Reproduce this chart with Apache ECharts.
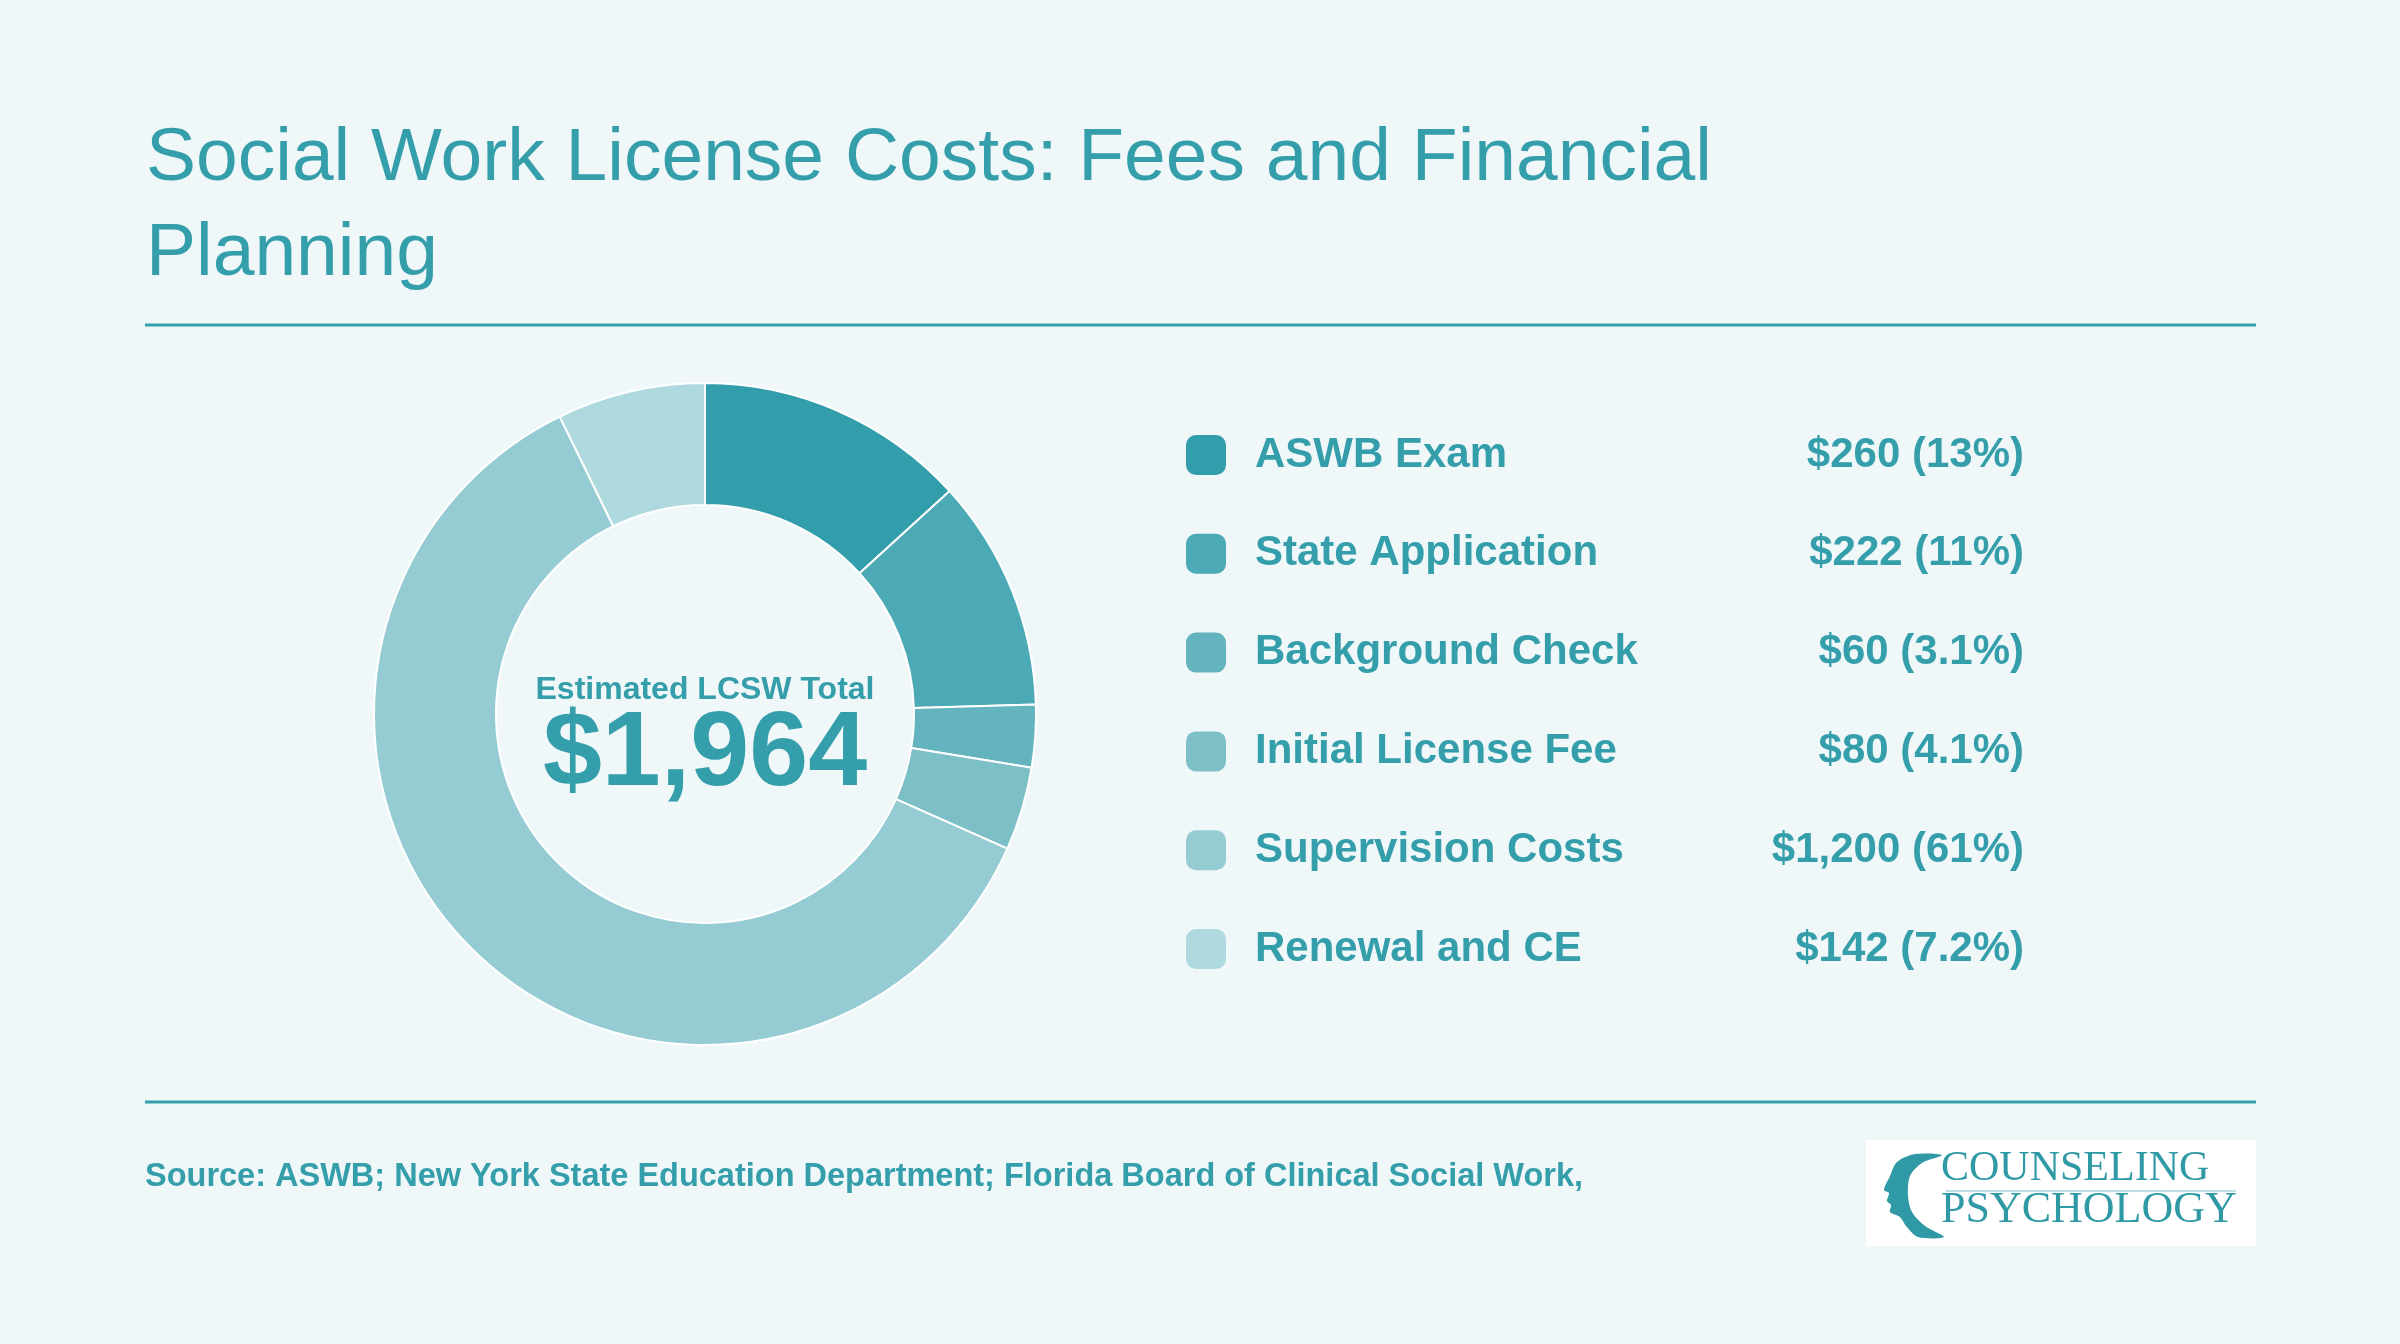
<!DOCTYPE html>
<html>
<head>
<meta charset="utf-8">
<title>Social Work License Costs</title>
<script src="https://cdn.jsdelivr.net/npm/echarts@6/dist/echarts.min.js"></script>
<style>
  html, body { margin: 0; padding: 0; background: #eff7f9; }
  #chart { width: 2400px; height: 1344px; }
</style>
</head>
<body>
<div id="chart"></div>
<script>
const categories = ['ASWB Exam', 'State Application', 'Background Check', 'Initial License Fee', 'Supervision Costs', 'Renewal and CE'];
const costs = [260, 222, 60, 80, 1200, 142];
const shares = ['13%', '11%', '3.1%', '4.1%', '61%', '7.2%'];
const sliceColors = ['#339eab', '#4ca9b6', '#63b4bf', '#7cbfc7', '#95ccd3', '#aed9de'];
const totalLabel = '$1,964';

const TEAL = '#349eab';
const FONT = '"Liberation Sans", Arial, Helvetica, sans-serif';

let chart = null;

function money(v) {
    return '$' + v.toLocaleString('en-US');
}

function legendText(name) {
    const i = categories.indexOf(name);
    return `{n|${name}}{v|${money(costs[i])} (${shares[i]})}`;
}

// little logo in the bottom right corner
function logoGraphics() {
    return [
        {
            type: 'rect',
            shape: { x: 1866, y: 1140, width: 390, height: 106 },
            style: { fill: '#ffffff' }
        },
        {
            type: 'polygon',
            shape: {
                smooth: 0.3,
                points: [
                    [1942, 1155], [1915, 1154], [1897, 1162], [1890, 1176],
                    [1884, 1190], [1889, 1193], [1887, 1201], [1891, 1205],
                    [1890, 1212], [1900, 1217], [1906, 1226], [1918, 1237],
                    [1944, 1237], [1925, 1226], [1912, 1212], [1908, 1196],
                    [1910, 1176], [1922, 1163]
                ]
            },
            style: { fill: '#2f9aa6' }
        },
        {
            type: 'text',
            style: {
                text: 'COUNSELING', x: 1941, y: 1169,
                font: '42px "Liberation Serif", "Times New Roman", serif',
                fill: '#2f9aa6', textVerticalAlign: 'middle'
            }
        },
        {
            type: 'line',
            shape: { x1: 1946, y1: 1191, x2: 2236, y2: 1191 },
            style: { stroke: '#a9d4da', lineWidth: 1.5 }
        },
        {
            type: 'text',
            style: {
                text: 'PSYCHOLOGY', x: 1941, y: 1210,
                font: '44px "Liberation Serif", "Times New Roman", serif',
                fill: '#2f9aa6', textVerticalAlign: 'middle'
            }
        }
    ];
}

function buildOptions() {
    return {
        backgroundColor: '#eff7f9',
        animation: false,
        color: sliceColors,
        title: {
            text: 'Social Work License Costs: Fees and Financial\nPlanning',
            left: 146,
            top: 112,
            padding: 0,
            textStyle: {
                color: TEAL,
                fontFamily: FONT,
                fontWeight: 'normal',
                fontSize: 75,
                lineHeight: 95
            }
        },
        legend: {
            orient: 'vertical',
            left: 1186,
            top: 434,
            padding: 0,
            itemWidth: 40,
            itemHeight: 40,
            itemGap: 56.8,
            icon: 'roundRect',
            selectedMode: false,
            itemStyle: { borderWidth: 0 },
            data: categories,
            formatter: legendText,
            textStyle: {
                color: TEAL,
                fontFamily: FONT,
                fontWeight: 'bold',
                fontSize: 42,
                lineHeight: 40,
                padding: [0, 0, 0, 24],
                rich: {
                    n: { width: 469, lineHeight: 40, color: TEAL, fontFamily: FONT, fontWeight: 'bold', fontSize: 42 },
                    v: { width: 300, lineHeight: 40, align: 'right', color: TEAL, fontFamily: FONT, fontWeight: 'bold', fontSize: 42 }
                }
            }
        },
        graphic: [
            {
                type: 'line',
                shape: { x1: 145, y1: 325, x2: 2256, y2: 325 },
                style: { stroke: TEAL, lineWidth: 3 }
            },
            {
                type: 'line',
                shape: { x1: 145, y1: 1102, x2: 2256, y2: 1102 },
                style: { stroke: TEAL, lineWidth: 3 }
            },
            {
                type: 'text',
                style: {
                    text: 'Estimated LCSW Total', x: 705, y: 690,
                    font: 'bold 32px ' + FONT, fill: TEAL,
                    textAlign: 'center', textVerticalAlign: 'middle'
                }
            },
            {
                type: 'text',
                style: {
                    text: totalLabel, x: 705, y: 756,
                    font: 'bold 106px ' + FONT, fill: TEAL,
                    textAlign: 'center', textVerticalAlign: 'middle'
                }
            },
            {
                type: 'text',
                style: {
                    text: 'Source: ASWB; New York State Education Department; Florida Board of Clinical Social Work,',
                    x: 145, y: 1177,
                    font: 'bold 32.5px ' + FONT, fill: TEAL,
                    textVerticalAlign: 'middle'
                }
            },
            ...logoGraphics()
        ],
        series: [{
            type: 'pie',
            center: [705, 714],
            radius: [209, 331],
            startAngle: 90,
            clockwise: true,
            label: { show: false },
            labelLine: { show: false },
            emphasis: { disabled: true },
            itemStyle: { borderColor: '#ffffff', borderWidth: 2 },
            data: categories.map((name, i) => ({ name: name, value: costs[i] }))
        }]
    };
}

chart = echarts.init(document.getElementById('chart'));
chart.setOption(buildOptions());
</script>
</body>
</html>
